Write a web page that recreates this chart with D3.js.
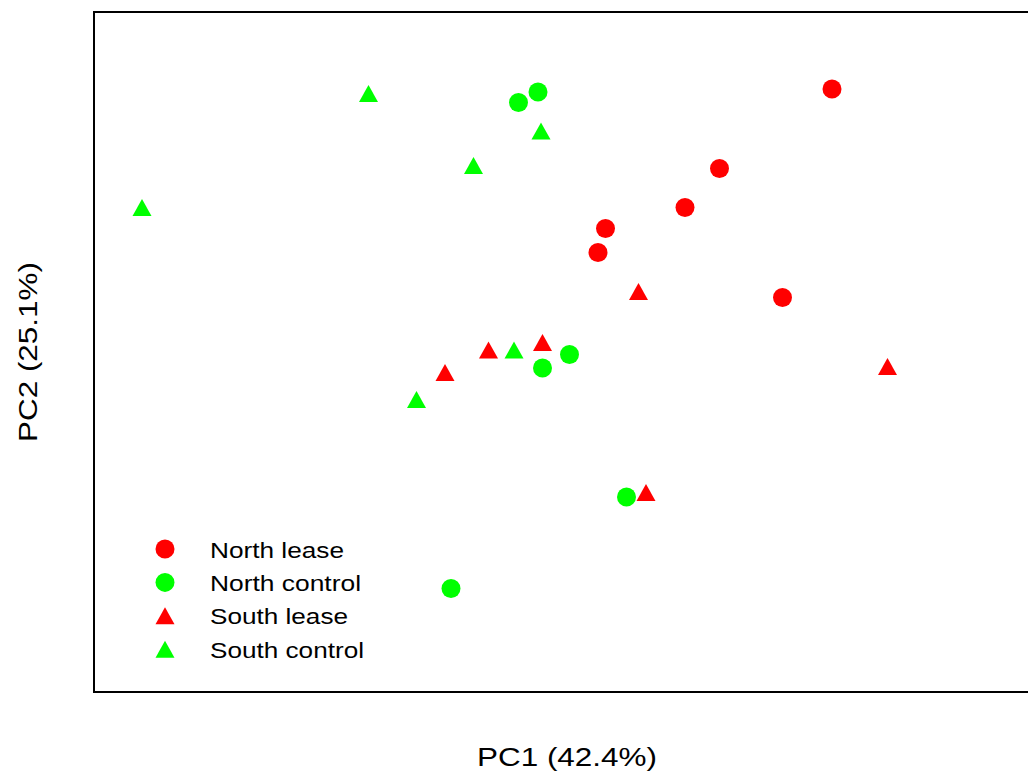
<!DOCTYPE html>
<html>
<head>
<meta charset="utf-8">
<script src="https://cdn.jsdelivr.net/npm/d3@7"></script>
<style>
  html, body { margin: 0; padding: 0; background: #fff; }
  svg { display: block; }
  text { font-family: "Liberation Sans", Arial, Helvetica, sans-serif; fill: #000; }
</style>
</head>
<body>
<script>
// PCA scores per group (PC1, PC2)
const groups = ["North lease", "North control", "South lease", "South control"];
const groupColors = ["#ff0000", "#00ff00", "#ff0000", "#00ff00"];
const groupShapes = ["circle", "circle", "triangle", "triangle"];

const northLeasePC1 = [1.72, 0.97, 0.74, 0.21, 0.16, 1.39];
const northLeasePC2 = [1.82, 1.29, 1.03, 0.89, 0.73, 0.43];

const northControlPC1 = [-0.24, -0.37, -0.03, -0.21, 0.35, -0.82];
const northControlPC2 = [1.80, 1.73, 0.05, -0.04, -0.90, -1.51];

const southLeasePC1 = [0.43, -0.21, -0.57, -0.86, 2.09, 0.48];
const southLeasePC2 = [0.47, 0.13, 0.08, -0.07, -0.03, -0.87];

const southControlPC1 = [-1.37, -2.88, -0.67, -0.22, -0.40, -1.05];
const southControlPC2 = [1.79, 1.03, 1.31, 1.54, 0.08, -0.25];

const xLabel = "PC1 (42.4%)";
const yLabel = "PC2 (25.1%)";

const pc1 = [northLeasePC1, northControlPC1, southLeasePC1, southControlPC1];
const pc2 = [northLeasePC2, northControlPC2, southLeasePC2, southControlPC2];

const W = 1028, H = 776;
const plot = { left: 94, top: 12, right: 1054, bottom: 692 };

const svg = d3.select("body").append("svg")
  .attr("width", W).attr("height", H);

const x = d3.scaleLinear().domain([-3.2, 3.2]).range([plot.left, plot.right]);
const y = d3.scaleLinear().domain([-2.2, 680 / 150 - 2.2]).range([plot.bottom, plot.top]);

// frame
svg.append("rect")
  .attr("x", plot.left).attr("y", plot.top)
  .attr("width", plot.right - plot.left).attr("height", plot.bottom - plot.top)
  .attr("fill", "none").attr("stroke", "#000").attr("stroke-width", 2);

// marker helpers (triangle centred on its bounding box)
const R = 9.5;
const triPath = (cx, cy) => {
  const w = 19, h = 17;
  return `M${cx},${cy - h / 2}L${cx + w / 2},${cy + h / 2}L${cx - w / 2},${cy + h / 2}Z`;
};
function drawMarker(g, shape, cx, cy, color) {
  if (shape === "circle") {
    g.append("circle").attr("cx", cx).attr("cy", cy).attr("r", R).attr("fill", color);
  } else {
    g.append("path").attr("d", triPath(cx, cy)).attr("fill", color);
  }
}

const points = svg.append("g");
groups.forEach((name, gi) => {
  pc1[gi].forEach((v, i) => {
    drawMarker(points, groupShapes[gi], x(v), y(pc2[gi][i]), groupColors[gi]);
  });
});

// axis titles
svg.append("text")
  .attr("x", 567).attr("y", 766)
  .attr("text-anchor", "middle")
  .attr("font-size", 26.5)
  .attr("textLength", 180).attr("lengthAdjust", "spacingAndGlyphs")
  .text(xLabel);

svg.append("text")
  .attr("transform", "translate(37,352) rotate(-90)")
  .attr("text-anchor", "middle")
  .attr("font-size", 26.5)
  .attr("textLength", 180).attr("lengthAdjust", "spacingAndGlyphs")
  .text(yLabel);

// legend
const legendWidths = [134, 151, 138, 154];
const legend = svg.append("g");
groups.forEach((name, gi) => {
  const cy = 549 + gi * 33.4;
  drawMarker(legend, groupShapes[gi], 165, cy, groupColors[gi]);
  legend.append("text")
    .attr("x", 210).attr("y", cy + 8.5)
    .attr("font-size", 22.5)
    .attr("textLength", legendWidths[gi]).attr("lengthAdjust", "spacingAndGlyphs")
    .text(name);
});
</script>
</body>
</html>
